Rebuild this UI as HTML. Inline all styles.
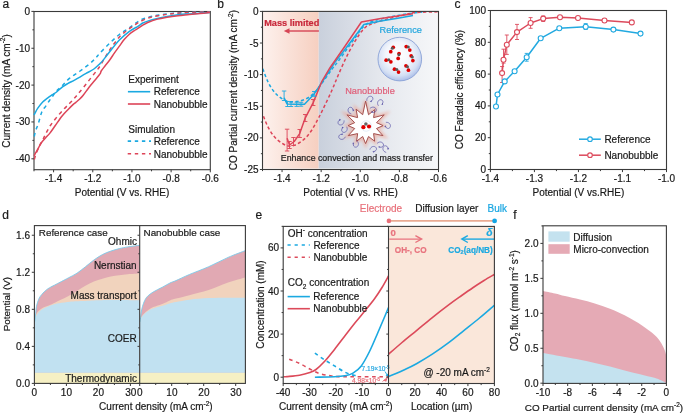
<!DOCTYPE html><html><head><meta charset="utf-8"><style>html,body{margin:0;padding:0;background:#fff;overflow:hidden;}svg{display:block;opacity:0.999;}text{font-family:"Liberation Sans",sans-serif;}</style></head><body>
<svg width="685" height="413" viewBox="0 0 685 413">
<defs><linearGradient id="gpink" x1="0" x2="1" y1="0" y2="0"><stop offset="0" stop-color="#fdf1ed"/><stop offset="1" stop-color="#f6cfc0"/></linearGradient><linearGradient id="ggray" x1="0" x2="1" y1="0" y2="0"><stop offset="0" stop-color="#c9d0dc"/><stop offset="0.5" stop-color="#e4e7ed"/><stop offset="1" stop-color="#f6f7f9"/></linearGradient><radialGradient id="gbub" cx="0.47" cy="0.40" r="0.64"><stop offset="0" stop-color="#ffffff"/><stop offset="0.45" stop-color="#f3f6fc"/><stop offset="0.75" stop-color="#d5e0f4"/><stop offset="0.92" stop-color="#b0c2ea"/><stop offset="1" stop-color="#93aadc"/></radialGradient><filter id="blur1" x="-0.3" y="-0.3" width="1.6" height="1.6"><feGaussianBlur stdDeviation="1.6"/></filter></defs>
<rect width="685" height="413" fill="#fff"/>
<text x="2.4" y="7.9" font-size="12" text-anchor="start" fill="#1a1a1a" font-weight="normal"  stroke="#1a1a1a" stroke-width="0.2">a</text>
<rect x="34" y="11.5" width="176.3" height="158.2" fill="none" stroke="#3a3a3a" stroke-width="1.1"/>
<line x1="53.59" y1="169.7" x2="53.59" y2="172.3" stroke="#3a3a3a" stroke-width="1" />
<line x1="92.77" y1="169.7" x2="92.77" y2="172.3" stroke="#3a3a3a" stroke-width="1" />
<line x1="131.94" y1="169.7" x2="131.94" y2="172.3" stroke="#3a3a3a" stroke-width="1" />
<line x1="171.12" y1="169.7" x2="171.12" y2="172.3" stroke="#3a3a3a" stroke-width="1" />
<line x1="210.3" y1="169.7" x2="210.3" y2="172.3" stroke="#3a3a3a" stroke-width="1" />
<line x1="34" y1="169.7" x2="34" y2="171.3" stroke="#3a3a3a" stroke-width="1" />
<line x1="73.18" y1="169.7" x2="73.18" y2="171.3" stroke="#3a3a3a" stroke-width="1" />
<line x1="112.36" y1="169.7" x2="112.36" y2="171.3" stroke="#3a3a3a" stroke-width="1" />
<line x1="151.53" y1="169.7" x2="151.53" y2="171.3" stroke="#3a3a3a" stroke-width="1" />
<line x1="190.71" y1="169.7" x2="190.71" y2="171.3" stroke="#3a3a3a" stroke-width="1" />
<text x="53.59" y="182" font-size="10" text-anchor="middle" fill="#1a1a1a" font-weight="normal"  stroke="#1a1a1a" stroke-width="0.2">-1.4</text>
<text x="92.77" y="182" font-size="10" text-anchor="middle" fill="#1a1a1a" font-weight="normal"  stroke="#1a1a1a" stroke-width="0.2">-1.2</text>
<text x="131.94" y="182" font-size="10" text-anchor="middle" fill="#1a1a1a" font-weight="normal"  stroke="#1a1a1a" stroke-width="0.2">-1.0</text>
<text x="171.12" y="182" font-size="10" text-anchor="middle" fill="#1a1a1a" font-weight="normal"  stroke="#1a1a1a" stroke-width="0.2">-0.8</text>
<text x="210.3" y="182" font-size="10" text-anchor="middle" fill="#1a1a1a" font-weight="normal"  stroke="#1a1a1a" stroke-width="0.2">-0.6</text>
<line x1="31.4" y1="11.4" x2="34" y2="11.4" stroke="#3a3a3a" stroke-width="1" />
<line x1="31.4" y1="48.25" x2="34" y2="48.25" stroke="#3a3a3a" stroke-width="1" />
<line x1="31.4" y1="85.1" x2="34" y2="85.1" stroke="#3a3a3a" stroke-width="1" />
<line x1="31.4" y1="121.95" x2="34" y2="121.95" stroke="#3a3a3a" stroke-width="1" />
<line x1="31.4" y1="158.8" x2="34" y2="158.8" stroke="#3a3a3a" stroke-width="1" />
<line x1="32.4" y1="29.83" x2="34" y2="29.83" stroke="#3a3a3a" stroke-width="1" />
<line x1="32.4" y1="66.67" x2="34" y2="66.67" stroke="#3a3a3a" stroke-width="1" />
<line x1="32.4" y1="103.53" x2="34" y2="103.53" stroke="#3a3a3a" stroke-width="1" />
<line x1="32.4" y1="140.38" x2="34" y2="140.38" stroke="#3a3a3a" stroke-width="1" />
<text x="30" y="14.9" font-size="10" text-anchor="end" fill="#1a1a1a" font-weight="normal"  stroke="#1a1a1a" stroke-width="0.2">0</text>
<text x="30" y="51.75" font-size="10" text-anchor="end" fill="#1a1a1a" font-weight="normal"  stroke="#1a1a1a" stroke-width="0.2">-10</text>
<text x="30" y="88.6" font-size="10" text-anchor="end" fill="#1a1a1a" font-weight="normal"  stroke="#1a1a1a" stroke-width="0.2">-20</text>
<text x="30" y="125.45" font-size="10" text-anchor="end" fill="#1a1a1a" font-weight="normal"  stroke="#1a1a1a" stroke-width="0.2">-30</text>
<text x="30" y="162.3" font-size="10" text-anchor="end" fill="#1a1a1a" font-weight="normal"  stroke="#1a1a1a" stroke-width="0.2">-40</text>
<text x="122" y="195.5" font-size="10" text-anchor="middle" fill="#1a1a1a" font-weight="normal"  stroke="#1a1a1a" stroke-width="0.2">Potential (V vs. RHE)</text>
<text transform="translate(9.5,91) rotate(-90)" font-size="10" text-anchor="middle" fill="#1a1a1a" stroke="#1a1a1a" stroke-width="0.2">Current density (mA cm<tspan font-size="6.5" dy="-4.1">-2</tspan><tspan dy="4.1">)</tspan></text>
<path d="M34.3,136.5 C34.5,135.58 34.83,133.13 35.5,131 C36.17,128.87 37.27,126.82 38.3,123.7 C39.33,120.58 40.48,115.2 41.7,112.3 C42.92,109.4 44.3,108.27 45.6,106.3 C46.9,104.33 48.37,102.13 49.5,100.5 C50.63,98.87 51.32,98 52.4,96.5 C53.48,95 54.42,93.25 56,91.5 C57.58,89.75 59.62,88.22 61.9,86 C64.18,83.78 66.78,80.62 69.7,78.2 C72.62,75.78 76.17,73.83 79.4,71.5 C82.63,69.17 86.37,66.47 89.1,64.2 C91.83,61.93 93.98,59.77 95.8,57.9 C97.62,56.03 97.68,55.45 100,53 C102.32,50.55 106.47,46.28 109.7,43.2 C112.93,40.12 116.17,37.03 119.4,34.5 C122.63,31.97 125.95,30.2 129.1,28 C132.25,25.8 135.68,22.93 138.3,21.3 C140.92,19.67 142.43,19.05 144.8,18.2 C147.17,17.35 150.08,16.73 152.5,16.2 C154.92,15.67 156.87,15.37 159.3,15 C161.73,14.63 164.52,14.32 167.1,14 C169.68,13.68 171.1,13.37 174.8,13.1 C178.5,12.83 183.43,12.6 189.3,12.4 C195.17,12.2 206.55,11.98 210,11.9" fill="none" stroke="#1ba9e1" stroke-width="1.5" stroke-dasharray="3.8,3.6" stroke-linejoin="round" />
<path d="M34.3,159.5 C34.67,158.33 35.55,154.95 36.5,152.5 C37.45,150.05 38.88,147.05 40,144.8 C41.12,142.55 42.1,141.1 43.2,139 C44.3,136.9 45.4,134.45 46.6,132.2 C47.8,129.95 48.8,127.88 50.4,125.5 C52,123.12 54.1,120.48 56.2,117.9 C58.3,115.32 60.93,112.25 63,110 C65.07,107.75 66.85,106.18 68.6,104.4 C70.35,102.62 71.9,101.08 73.5,99.3 C75.1,97.52 76.42,95.83 78.2,93.7 C79.98,91.57 82.07,89.15 84.2,86.5 C86.33,83.85 88.9,80.47 91,77.8 C93.1,75.13 95.3,72.47 96.8,70.5 C98.3,68.53 98.67,68.08 100,66 C101.33,63.92 103.18,60.67 104.8,58 C106.42,55.33 108.08,52.47 109.7,50 C111.32,47.53 112.88,45.37 114.5,43.2 C116.12,41.03 117.78,38.77 119.4,37 C121.02,35.23 122.58,33.97 124.2,32.6 C125.82,31.23 127.48,29.97 129.1,28.8 C130.72,27.63 132.35,26.63 133.9,25.6 C135.45,24.57 136.58,23.63 138.4,22.6 C140.22,21.57 142.45,20.35 144.8,19.4 C147.15,18.45 148.78,17.75 152.5,16.9 C156.22,16.05 162.52,14.95 167.1,14.3 C171.68,13.65 175.35,13.33 180,13 C184.65,12.67 190,12.47 195,12.3 C200,12.13 207.5,12.05 210,12" fill="none" stroke="#dd4458" stroke-width="1.5" stroke-dasharray="3.8,3.6" stroke-linejoin="round" />
<path d="M34,115 C34.08,114.85 33.87,115.23 34.5,114.1 C35.13,112.97 36.43,110.22 37.8,108.2 C39.17,106.18 41.08,103.68 42.7,102 C44.32,100.32 45.88,99.32 47.5,98.1 C49.12,96.88 50.78,95.8 52.4,94.7 C54.02,93.6 55.52,92.82 57.2,91.5 C58.88,90.18 60.75,88.12 62.5,86.8 C64.25,85.48 65.7,84.7 67.7,83.6 C69.7,82.5 72.55,81.25 74.5,80.2 C76.45,79.15 77.47,78.43 79.4,77.3 C81.33,76.17 83.68,74.78 86.1,73.4 C88.52,72.02 91.58,70.63 93.9,69 C96.22,67.37 98.48,65.03 100,63.6 C101.52,62.17 101.38,62.38 103,60.4 C104.62,58.42 106.97,55.1 109.7,51.7 C112.43,48.3 116.17,43.35 119.4,40 C122.63,36.65 125.95,33.92 129.1,31.6 C132.25,29.28 136.02,27.53 138.3,26.1 C140.58,24.67 141.23,23.83 142.8,23 C144.37,22.17 145.27,21.85 147.7,21.1 C150.13,20.35 154.17,19.27 157.4,18.5 C160.63,17.73 163.67,17.12 167.1,16.5 C170.53,15.88 174.3,15.23 178,14.8 C181.7,14.37 185.63,14.17 189.3,13.9 C192.97,13.63 196.55,13.42 200,13.2 C203.45,12.98 208.33,12.7 210,12.6" fill="none" stroke="#1ba9e1" stroke-width="1.5" stroke-linejoin="round" />
<path d="M34.2,156 C34.35,155.63 34.6,154.73 35.1,153.8 C35.6,152.87 36.42,151.82 37.2,150.4 C37.98,148.98 38.95,146.78 39.8,145.3 C40.65,143.82 41.32,142.77 42.3,141.5 C43.28,140.23 44.43,139.1 45.7,137.7 C46.97,136.3 48.3,135.13 49.9,133.1 C51.5,131.07 53.27,128.35 55.3,125.5 C57.33,122.65 60,118.63 62.1,116 C64.2,113.37 66.08,111.6 67.9,109.7 C69.72,107.8 71.67,105.83 73,104.6 C74.33,103.37 74.82,103.2 75.9,102.3 C76.98,101.4 78.28,100.38 79.5,99.2 C80.72,98.02 81.6,97.2 83.2,95.2 C84.8,93.2 87.15,89.7 89.1,87.2 C91.05,84.7 93.08,82.42 94.9,80.2 C96.72,77.98 98.95,75.43 100,73.9 C101.05,72.37 100.4,72.28 101.2,71 C102,69.72 103.38,68.03 104.8,66.2 C106.22,64.37 108.08,62.22 109.7,60 C111.32,57.78 112.88,55.22 114.5,52.9 C116.12,50.58 117.78,48.32 119.4,46.1 C121.02,43.88 122.58,41.53 124.2,39.6 C125.82,37.67 127.48,35.95 129.1,34.5 C130.72,33.05 132.37,31.95 133.9,30.9 C135.43,29.85 136.82,29.15 138.3,28.2 C139.78,27.25 141.23,26.15 142.8,25.2 C144.37,24.25 145.27,23.52 147.7,22.5 C150.13,21.48 154.17,19.98 157.4,19.1 C160.63,18.22 163.67,17.77 167.1,17.2 C170.53,16.63 174.3,16.13 178,15.7 C181.7,15.27 185.63,14.97 189.3,14.6 C192.97,14.23 196.55,13.83 200,13.5 C203.45,13.17 208.33,12.75 210,12.6" fill="none" stroke="#dd4458" stroke-width="1.5" stroke-linejoin="round" />
<text x="128.3" y="83" font-size="10" text-anchor="start" fill="#1a1a1a" font-weight="normal"  stroke="#1a1a1a" stroke-width="0.2">Experiment</text>
<line x1="127.9" y1="91.7" x2="150.2" y2="91.7" stroke="#1ba9e1" stroke-width="1.6" />
<text x="153.7" y="95.3" font-size="10" text-anchor="start" fill="#1a1a1a" font-weight="normal"  stroke="#1a1a1a" stroke-width="0.2">Reference</text>
<line x1="127.9" y1="104" x2="150.2" y2="104" stroke="#dd4458" stroke-width="1.6" />
<text x="153.7" y="107.9" font-size="10" text-anchor="start" fill="#1a1a1a" font-weight="normal"  stroke="#1a1a1a" stroke-width="0.2">Nanobubble</text>
<text x="128.3" y="132.7" font-size="10" text-anchor="start" fill="#1a1a1a" font-weight="normal"  stroke="#1a1a1a" stroke-width="0.2">Simulation</text>
<line x1="127.7" y1="141.1" x2="151" y2="141.1" stroke="#1ba9e1" stroke-width="1.6" stroke-dasharray="3.4,3.7"/>
<text x="153.7" y="145.2" font-size="10" text-anchor="start" fill="#1a1a1a" font-weight="normal"  stroke="#1a1a1a" stroke-width="0.2">Reference</text>
<line x1="127.7" y1="153.8" x2="151" y2="153.8" stroke="#dd4458" stroke-width="1.6" stroke-dasharray="3.4,3.7"/>
<text x="153.7" y="157.9" font-size="10" text-anchor="start" fill="#1a1a1a" font-weight="normal"  stroke="#1a1a1a" stroke-width="0.2">Nanobubble</text>
<rect x="263" y="11.9" width="55.7" height="156.6" fill="url(#gpink)"/>
<rect x="318.7" y="11.9" width="118.8" height="156.6" fill="url(#ggray)"/>
<text x="217.2" y="8.3" font-size="12" text-anchor="start" fill="#1a1a1a" font-weight="normal"  stroke="#1a1a1a" stroke-width="0.2">b</text>
<path d="M262.8,68.7 C263.62,70.8 265.92,77.58 267.7,81.3 C269.48,85.02 271.57,88.42 273.5,91 C275.43,93.58 277.05,95.1 279.3,96.8 C281.55,98.5 284.1,100.4 287,101.2 C289.9,102 293.47,102.02 296.7,101.6 C299.93,101.18 303.48,100.15 306.4,98.7 C309.32,97.25 311.6,95.48 314.2,92.9 C316.8,90.32 319.1,87.07 322,83.2 C324.9,79.33 328.93,73.32 331.6,69.7 C334.27,66.08 335.43,64.93 338,61.5 C340.57,58.07 344,53.27 347,49.1 C350,44.93 353.17,40.32 356,36.5 C358.83,32.68 361.33,28.7 364,26.2 C366.67,23.7 369.2,22.7 372,21.5 C374.8,20.3 376.5,20 380.8,19 C385.1,18 392.43,16.48 397.8,15.5 C403.17,14.52 408.9,13.67 413,13.1 C417.1,12.53 420.83,12.27 422.4,12.1" fill="none" stroke="#1ba9e1" stroke-width="1.5" stroke-dasharray="3.2,2.4" stroke-linejoin="round" />
<path d="M263.5,116.3 C264.15,117.87 265.7,122.42 267.4,125.7 C269.1,128.98 271.33,133.12 273.7,136 C276.07,138.88 278.97,141.3 281.6,143 C284.23,144.7 286.87,146.05 289.5,146.2 C292.13,146.35 294.78,145.22 297.4,143.9 C300.02,142.58 302.85,140.53 305.2,138.3 C307.55,136.07 309.4,133.65 311.5,130.5 C313.6,127.35 315.95,122.82 317.8,119.4 C319.65,115.98 320.3,114.73 322.6,110 C324.9,105.27 328.95,96.92 331.6,91 C334.25,85.08 335.93,80.37 338.5,74.5 C341.07,68.63 344.18,61.45 347,55.8 C349.82,50.15 352.58,45.12 355.4,40.6 C358.22,36.08 361.07,31.53 363.9,28.7 C366.73,25.87 368.17,25.28 372.4,23.6 C376.63,21.92 383.65,20.15 389.3,18.6 C394.95,17.05 402.07,15.3 406.3,14.3 C410.53,13.3 409.42,13.02 414.7,12.6 C419.98,12.18 434.12,11.93 438,11.8" fill="none" stroke="#dd4458" stroke-width="1.5" stroke-dasharray="3.2,2.4" stroke-linejoin="round" />
<path d="M284.1,97.8 L287,104 L296.7,104.3 L304.5,104.3 L314.2,93.9 L323.9,79.4 L334.5,62.9 L345.3,49 L363.9,24.5 L380.8,21.1 L397.8,18.2 L413,15.5" fill="none" stroke="#1ba9e1" stroke-width="1.5" stroke-linejoin="round" />
<path d="M287.1,138.3 L289.5,145 L294.2,141.5 L299.7,133.6 L305.2,118.1 L313.2,102.6 L321.9,81.3 L330,67.7 L345.3,45.7 L361.4,22 L380.8,18.6 L397.8,16 L413,13.8" fill="none" stroke="#dd4458" stroke-width="1.5" stroke-linejoin="round" />
<line x1="284.1" y1="91" x2="284.1" y2="100.5" stroke="#1ba9e1" stroke-width="0.9" />
<line x1="281.9" y1="91" x2="286.3" y2="91" stroke="#1ba9e1" stroke-width="0.9" />
<line x1="281.9" y1="100.5" x2="286.3" y2="100.5" stroke="#1ba9e1" stroke-width="0.9" />
<line x1="287.5" y1="101.5" x2="287.5" y2="106.5" stroke="#1ba9e1" stroke-width="0.9" />
<line x1="285.3" y1="101.5" x2="289.7" y2="101.5" stroke="#1ba9e1" stroke-width="0.9" />
<line x1="285.3" y1="106.5" x2="289.7" y2="106.5" stroke="#1ba9e1" stroke-width="0.9" />
<line x1="291" y1="102" x2="291" y2="106.5" stroke="#1ba9e1" stroke-width="0.9" />
<line x1="288.8" y1="102" x2="293.2" y2="102" stroke="#1ba9e1" stroke-width="0.9" />
<line x1="288.8" y1="106.5" x2="293.2" y2="106.5" stroke="#1ba9e1" stroke-width="0.9" />
<line x1="296.7" y1="102.2" x2="296.7" y2="106.4" stroke="#1ba9e1" stroke-width="0.9" />
<line x1="294.5" y1="102.2" x2="298.9" y2="102.2" stroke="#1ba9e1" stroke-width="0.9" />
<line x1="294.5" y1="106.4" x2="298.9" y2="106.4" stroke="#1ba9e1" stroke-width="0.9" />
<line x1="301" y1="102.3" x2="301" y2="106.2" stroke="#1ba9e1" stroke-width="0.9" />
<line x1="298.8" y1="102.3" x2="303.2" y2="102.3" stroke="#1ba9e1" stroke-width="0.9" />
<line x1="298.8" y1="106.2" x2="303.2" y2="106.2" stroke="#1ba9e1" stroke-width="0.9" />
<line x1="314.2" y1="91.5" x2="314.2" y2="96.3" stroke="#1ba9e1" stroke-width="0.9" />
<line x1="312" y1="91.5" x2="316.4" y2="91.5" stroke="#1ba9e1" stroke-width="0.9" />
<line x1="312" y1="96.3" x2="316.4" y2="96.3" stroke="#1ba9e1" stroke-width="0.9" />
<line x1="287.1" y1="129.2" x2="287.1" y2="151" stroke="#dd4458" stroke-width="0.9" />
<line x1="284.9" y1="129.2" x2="289.3" y2="129.2" stroke="#dd4458" stroke-width="0.9" />
<line x1="284.9" y1="151" x2="289.3" y2="151" stroke="#dd4458" stroke-width="0.9" />
<line x1="289.5" y1="141.5" x2="289.5" y2="148.5" stroke="#dd4458" stroke-width="0.9" />
<line x1="287.3" y1="141.5" x2="291.7" y2="141.5" stroke="#dd4458" stroke-width="0.9" />
<line x1="287.3" y1="148.5" x2="291.7" y2="148.5" stroke="#dd4458" stroke-width="0.9" />
<line x1="293.5" y1="137.5" x2="293.5" y2="145.5" stroke="#dd4458" stroke-width="0.9" />
<line x1="291.3" y1="137.5" x2="295.7" y2="137.5" stroke="#dd4458" stroke-width="0.9" />
<line x1="291.3" y1="145.5" x2="295.7" y2="145.5" stroke="#dd4458" stroke-width="0.9" />
<line x1="299.7" y1="129.5" x2="299.7" y2="137.5" stroke="#dd4458" stroke-width="0.9" />
<line x1="297.5" y1="129.5" x2="301.9" y2="129.5" stroke="#dd4458" stroke-width="0.9" />
<line x1="297.5" y1="137.5" x2="301.9" y2="137.5" stroke="#dd4458" stroke-width="0.9" />
<line x1="305.2" y1="114.5" x2="305.2" y2="121.5" stroke="#dd4458" stroke-width="0.9" />
<line x1="303" y1="114.5" x2="307.4" y2="114.5" stroke="#dd4458" stroke-width="0.9" />
<line x1="303" y1="121.5" x2="307.4" y2="121.5" stroke="#dd4458" stroke-width="0.9" />
<line x1="313.2" y1="99.5" x2="313.2" y2="105.5" stroke="#dd4458" stroke-width="0.9" />
<line x1="311" y1="99.5" x2="315.4" y2="99.5" stroke="#dd4458" stroke-width="0.9" />
<line x1="311" y1="105.5" x2="315.4" y2="105.5" stroke="#dd4458" stroke-width="0.9" />
<rect x="262.5" y="11.4" width="176" height="158.1" fill="none" stroke="#3a3a3a" stroke-width="1.1"/>
<line x1="282.06" y1="169.5" x2="282.06" y2="172.1" stroke="#3a3a3a" stroke-width="1" />
<line x1="321.17" y1="169.5" x2="321.17" y2="172.1" stroke="#3a3a3a" stroke-width="1" />
<line x1="360.28" y1="169.5" x2="360.28" y2="172.1" stroke="#3a3a3a" stroke-width="1" />
<line x1="399.39" y1="169.5" x2="399.39" y2="172.1" stroke="#3a3a3a" stroke-width="1" />
<line x1="438.5" y1="169.5" x2="438.5" y2="172.1" stroke="#3a3a3a" stroke-width="1" />
<line x1="262.5" y1="169.5" x2="262.5" y2="171.1" stroke="#3a3a3a" stroke-width="1" />
<line x1="301.61" y1="169.5" x2="301.61" y2="171.1" stroke="#3a3a3a" stroke-width="1" />
<line x1="340.72" y1="169.5" x2="340.72" y2="171.1" stroke="#3a3a3a" stroke-width="1" />
<line x1="379.83" y1="169.5" x2="379.83" y2="171.1" stroke="#3a3a3a" stroke-width="1" />
<line x1="418.94" y1="169.5" x2="418.94" y2="171.1" stroke="#3a3a3a" stroke-width="1" />
<text x="282.06" y="182" font-size="10" text-anchor="middle" fill="#1a1a1a" font-weight="normal"  stroke="#1a1a1a" stroke-width="0.2">-1.4</text>
<text x="321.17" y="182" font-size="10" text-anchor="middle" fill="#1a1a1a" font-weight="normal"  stroke="#1a1a1a" stroke-width="0.2">-1.2</text>
<text x="360.28" y="182" font-size="10" text-anchor="middle" fill="#1a1a1a" font-weight="normal"  stroke="#1a1a1a" stroke-width="0.2">-1.0</text>
<text x="399.39" y="182" font-size="10" text-anchor="middle" fill="#1a1a1a" font-weight="normal"  stroke="#1a1a1a" stroke-width="0.2">-0.8</text>
<text x="438.5" y="182" font-size="10" text-anchor="middle" fill="#1a1a1a" font-weight="normal"  stroke="#1a1a1a" stroke-width="0.2">-0.6</text>
<line x1="259.9" y1="11.4" x2="262.5" y2="11.4" stroke="#3a3a3a" stroke-width="1" />
<line x1="259.9" y1="43.02" x2="262.5" y2="43.02" stroke="#3a3a3a" stroke-width="1" />
<line x1="259.9" y1="74.64" x2="262.5" y2="74.64" stroke="#3a3a3a" stroke-width="1" />
<line x1="259.9" y1="106.26" x2="262.5" y2="106.26" stroke="#3a3a3a" stroke-width="1" />
<line x1="259.9" y1="137.88" x2="262.5" y2="137.88" stroke="#3a3a3a" stroke-width="1" />
<line x1="259.9" y1="169.5" x2="262.5" y2="169.5" stroke="#3a3a3a" stroke-width="1" />
<line x1="260.9" y1="27.21" x2="262.5" y2="27.21" stroke="#3a3a3a" stroke-width="1" />
<line x1="260.9" y1="58.83" x2="262.5" y2="58.83" stroke="#3a3a3a" stroke-width="1" />
<line x1="260.9" y1="90.45" x2="262.5" y2="90.45" stroke="#3a3a3a" stroke-width="1" />
<line x1="260.9" y1="122.07" x2="262.5" y2="122.07" stroke="#3a3a3a" stroke-width="1" />
<line x1="260.9" y1="153.69" x2="262.5" y2="153.69" stroke="#3a3a3a" stroke-width="1" />
<text x="258.5" y="14.9" font-size="10" text-anchor="end" fill="#1a1a1a" font-weight="normal"  stroke="#1a1a1a" stroke-width="0.2">0</text>
<text x="258.5" y="46.52" font-size="10" text-anchor="end" fill="#1a1a1a" font-weight="normal"  stroke="#1a1a1a" stroke-width="0.2">-5</text>
<text x="258.5" y="78.14" font-size="10" text-anchor="end" fill="#1a1a1a" font-weight="normal"  stroke="#1a1a1a" stroke-width="0.2">-10</text>
<text x="258.5" y="109.76" font-size="10" text-anchor="end" fill="#1a1a1a" font-weight="normal"  stroke="#1a1a1a" stroke-width="0.2">-15</text>
<text x="258.5" y="141.38" font-size="10" text-anchor="end" fill="#1a1a1a" font-weight="normal"  stroke="#1a1a1a" stroke-width="0.2">-20</text>
<text x="258.5" y="173" font-size="10" text-anchor="end" fill="#1a1a1a" font-weight="normal"  stroke="#1a1a1a" stroke-width="0.2">-25</text>
<text x="350.5" y="195.5" font-size="10" text-anchor="middle" fill="#1a1a1a" font-weight="normal"  stroke="#1a1a1a" stroke-width="0.2">Potential (V vs. RHE)</text>
<text transform="translate(237.4,90.1) rotate(-90)" font-size="10" text-anchor="middle" fill="#1a1a1a" stroke="#1a1a1a" stroke-width="0.2">CO Partial current density (mA cm<tspan font-size="6.5" dy="-4.1">-2</tspan><tspan dy="4.1">)</tspan></text>
<text x="264.2" y="26.3" font-size="9.2" text-anchor="start" fill="#c8283a" font-weight="bold"  stroke="#c8283a" stroke-width="0.2">Mass limited</text>
<line x1="287.5" y1="31" x2="318.9" y2="31" stroke="#d64555" stroke-width="1.4" />
<path d="M283.8,31 L289.5,28.2 L289.5,33.8 Z" fill="#d64555"/>
<text x="379.5" y="33" font-size="9.2" text-anchor="start" fill="#22a6de" font-weight="normal"  stroke="#22a6de" stroke-width="0.2">Reference</text>
<text x="345.2" y="93.5" font-size="9.2" text-anchor="start" fill="#e0607a" font-weight="normal"  stroke="#e0607a" stroke-width="0.2">Nanobubble</text>
<text x="280.8" y="161.2" font-size="8.8" text-anchor="start" fill="#1a1a1a" font-weight="normal"  stroke="#1a1a1a" stroke-width="0.2">Enhance convection and mass transfer</text>
<circle cx="399.8" cy="59.1" r="21.8" fill="url(#gbub)" stroke="#8aa2d6" stroke-width="0.9"/>
<circle cx="393.25" cy="47.33" r="1.85" fill="#e00000"/>
<circle cx="390.75" cy="51.67" r="1.85" fill="#e00000"/>
<circle cx="392.3" cy="48.3" r="1.5" fill="#5a5a5a"/>
<circle cx="406.23" cy="46.53" r="1.85" fill="#e00000"/>
<circle cx="409.77" cy="50.07" r="1.85" fill="#e00000"/>
<circle cx="408.3" cy="47.1" r="1.5" fill="#5a5a5a"/>
<circle cx="399.03" cy="53.54" r="1.85" fill="#e00000"/>
<circle cx="398.17" cy="58.46" r="1.85" fill="#e00000"/>
<circle cx="398.9" cy="54.8" r="1.5" fill="#5a5a5a"/>
<circle cx="411.14" cy="55.85" r="1.85" fill="#e00000"/>
<circle cx="412.86" cy="60.55" r="1.85" fill="#e00000"/>
<circle cx="412.3" cy="57" r="1.5" fill="#5a5a5a"/>
<circle cx="386.15" cy="60.14" r="1.85" fill="#e00000"/>
<circle cx="390.85" cy="61.86" r="1.85" fill="#e00000"/>
<circle cx="388.8" cy="59.8" r="1.5" fill="#5a5a5a"/>
<circle cx="405.95" cy="65.83" r="1.85" fill="#e00000"/>
<circle cx="408.45" cy="70.17" r="1.85" fill="#e00000"/>
<circle cx="407.5" cy="66.8" r="1.5" fill="#5a5a5a"/>
<circle cx="394.45" cy="69.17" r="1.85" fill="#e00000"/>
<circle cx="398.55" cy="72.03" r="1.85" fill="#e00000"/>
<circle cx="396.8" cy="69.4" r="1.5" fill="#5a5a5a"/>
<path d="M365.6,101.1 L368.52,114.69 L374.85,109.58 L373.59,117.61 L384.22,114.85 L376.51,122.68 L383.1,125.6 L376.51,128.52 L382.92,135.6 L373.59,133.59 L374.6,141.19 L368.52,136.51 L365.6,143.6 L362.68,136.51 L356.6,141.19 L357.61,133.59 L348.28,135.6 L354.69,128.52 L348.1,125.6 L354.69,122.68 L346.98,114.85 L357.61,117.61 L356.1,109.15 L362.68,114.69 Z" fill="none" stroke="#eea08e" stroke-width="4.0" opacity="0.6" filter="url(#blur1)"/>
<path d="M365.6,101.1 L368.52,114.69 L374.85,109.58 L373.59,117.61 L384.22,114.85 L376.51,122.68 L383.1,125.6 L376.51,128.52 L382.92,135.6 L373.59,133.59 L374.6,141.19 L368.52,136.51 L365.6,143.6 L362.68,136.51 L356.6,141.19 L357.61,133.59 L348.28,135.6 L354.69,128.52 L348.1,125.6 L354.69,122.68 L346.98,114.85 L357.61,117.61 L356.1,109.15 L362.68,114.69 Z" fill="#fff" stroke="#a4504e" stroke-width="1.0" stroke-linejoin="miter"/>
<circle cx="366.2" cy="126.0" r="5.2" fill="none" stroke="#cfe0f2" stroke-width="0.6"/>
<circle cx="363.4" cy="127.2" r="2.1" fill="#e00000"/><circle cx="369" cy="126.5" r="2.1" fill="#e00000"/><circle cx="365.9" cy="124.0" r="1.8" fill="#666"/>
<g transform="translate(370,98.6) rotate(10) scale(1.05)"><path d="M-2.6,2.6 C-3.6,-0.8 -0.6,-3.2 1.8,-2.0 C3.4,-1.0 3.0,1.6 1.2,2.3" fill="none" stroke="#5d56a8" stroke-width="0.6"/><path d="M0.2,2.6 l2.0,-1.2 l-0.3,1.9 z" fill="#5d56a8"/></g>
<g transform="translate(380.1,102.3) rotate(-20) scale(1.05)"><path d="M-2.6,2.6 C-3.6,-0.8 -0.6,-3.2 1.8,-2.0 C3.4,-1.0 3.0,1.6 1.2,2.3" fill="none" stroke="#5d56a8" stroke-width="0.6"/><path d="M0.2,2.6 l2.0,-1.2 l-0.3,1.9 z" fill="#5d56a8"/></g>
<g transform="translate(373.6,109.5) rotate(60) scale(1.05)"><path d="M-2.6,2.6 C-3.6,-0.8 -0.6,-3.2 1.8,-2.0 C3.4,-1.0 3.0,1.6 1.2,2.3" fill="none" stroke="#5d56a8" stroke-width="0.6"/><path d="M0.2,2.6 l2.0,-1.2 l-0.3,1.9 z" fill="#5d56a8"/></g>
<g transform="translate(350.3,110.2) rotate(-60) scale(1.05)"><path d="M-2.6,2.6 C-3.6,-0.8 -0.6,-3.2 1.8,-2.0 C3.4,-1.0 3.0,1.6 1.2,2.3" fill="none" stroke="#5d56a8" stroke-width="0.6"/><path d="M0.2,2.6 l2.0,-1.2 l-0.3,1.9 z" fill="#5d56a8"/></g>
<g transform="translate(340.9,122.6) rotate(190) scale(1.05)"><path d="M-2.6,2.6 C-3.6,-0.8 -0.6,-3.2 1.8,-2.0 C3.4,-1.0 3.0,1.6 1.2,2.3" fill="none" stroke="#5d56a8" stroke-width="0.6"/><path d="M0.2,2.6 l2.0,-1.2 l-0.3,1.9 z" fill="#5d56a8"/></g>
<g transform="translate(344.5,129.9) rotate(170) scale(1.05)"><path d="M-2.6,2.6 C-3.6,-0.8 -0.6,-3.2 1.8,-2.0 C3.4,-1.0 3.0,1.6 1.2,2.3" fill="none" stroke="#5d56a8" stroke-width="0.6"/><path d="M0.2,2.6 l2.0,-1.2 l-0.3,1.9 z" fill="#5d56a8"/></g>
<g transform="translate(341.6,137.1) rotate(220) scale(1.05)"><path d="M-2.6,2.6 C-3.6,-0.8 -0.6,-3.2 1.8,-2.0 C3.4,-1.0 3.0,1.6 1.2,2.3" fill="none" stroke="#5d56a8" stroke-width="0.6"/><path d="M0.2,2.6 l2.0,-1.2 l-0.3,1.9 z" fill="#5d56a8"/></g>
<g transform="translate(388.1,125.5) rotate(100) scale(1.05)"><path d="M-2.6,2.6 C-3.6,-0.8 -0.6,-3.2 1.8,-2.0 C3.4,-1.0 3.0,1.6 1.2,2.3" fill="none" stroke="#5d56a8" stroke-width="0.6"/><path d="M0.2,2.6 l2.0,-1.2 l-0.3,1.9 z" fill="#5d56a8"/></g>
<g transform="translate(356.1,144.4) rotate(140) scale(1.05)"><path d="M-2.6,2.6 C-3.6,-0.8 -0.6,-3.2 1.8,-2.0 C3.4,-1.0 3.0,1.6 1.2,2.3" fill="none" stroke="#5d56a8" stroke-width="0.6"/><path d="M0.2,2.6 l2.0,-1.2 l-0.3,1.9 z" fill="#5d56a8"/></g>
<g transform="translate(373.6,148.7) rotate(30) scale(1.05)"><path d="M-2.6,2.6 C-3.6,-0.8 -0.6,-3.2 1.8,-2.0 C3.4,-1.0 3.0,1.6 1.2,2.3" fill="none" stroke="#5d56a8" stroke-width="0.6"/><path d="M0.2,2.6 l2.0,-1.2 l-0.3,1.9 z" fill="#5d56a8"/></g>
<g transform="translate(380.8,144.4) rotate(60) scale(1.05)"><path d="M-2.6,2.6 C-3.6,-0.8 -0.6,-3.2 1.8,-2.0 C3.4,-1.0 3.0,1.6 1.2,2.3" fill="none" stroke="#5d56a8" stroke-width="0.6"/><path d="M0.2,2.6 l2.0,-1.2 l-0.3,1.9 z" fill="#5d56a8"/></g>
<g transform="translate(385.2,148.7) rotate(300) scale(1.05)"><path d="M-2.6,2.6 C-3.6,-0.8 -0.6,-3.2 1.8,-2.0 C3.4,-1.0 3.0,1.6 1.2,2.3" fill="none" stroke="#5d56a8" stroke-width="0.6"/><path d="M0.2,2.6 l2.0,-1.2 l-0.3,1.9 z" fill="#5d56a8"/></g>
<text x="454.6" y="7.9" font-size="12" text-anchor="start" fill="#1a1a1a" font-weight="normal"  stroke="#1a1a1a" stroke-width="0.2">c</text>
<line x1="502.1" y1="66.5" x2="502.1" y2="82.5" stroke="#dc4a5c" stroke-width="0.9" />
<line x1="500.1" y1="66.5" x2="504.1" y2="66.5" stroke="#dc4a5c" stroke-width="0.9" />
<line x1="500.1" y1="82.5" x2="504.1" y2="82.5" stroke="#dc4a5c" stroke-width="0.9" />
<line x1="503.5" y1="49.2" x2="503.5" y2="63.1" stroke="#dc4a5c" stroke-width="0.9" />
<line x1="501.5" y1="49.2" x2="505.5" y2="49.2" stroke="#dc4a5c" stroke-width="0.9" />
<line x1="501.5" y1="63.1" x2="505.5" y2="63.1" stroke="#dc4a5c" stroke-width="0.9" />
<line x1="506.8" y1="35" x2="506.8" y2="54.4" stroke="#dc4a5c" stroke-width="0.9" />
<line x1="504.8" y1="35" x2="508.8" y2="35" stroke="#dc4a5c" stroke-width="0.9" />
<line x1="504.8" y1="54.4" x2="508.8" y2="54.4" stroke="#dc4a5c" stroke-width="0.9" />
<line x1="517" y1="24.4" x2="517" y2="39.5" stroke="#dc4a5c" stroke-width="0.9" />
<line x1="515" y1="24.4" x2="519" y2="24.4" stroke="#dc4a5c" stroke-width="0.9" />
<line x1="515" y1="39.5" x2="519" y2="39.5" stroke="#dc4a5c" stroke-width="0.9" />
<line x1="530.6" y1="17.6" x2="530.6" y2="28.3" stroke="#dc4a5c" stroke-width="0.9" />
<line x1="528.6" y1="17.6" x2="532.6" y2="17.6" stroke="#dc4a5c" stroke-width="0.9" />
<line x1="528.6" y1="28.3" x2="532.6" y2="28.3" stroke="#dc4a5c" stroke-width="0.9" />
<line x1="543.2" y1="16" x2="543.2" y2="21.5" stroke="#dc4a5c" stroke-width="0.9" />
<line x1="541.2" y1="16" x2="545.2" y2="16" stroke="#dc4a5c" stroke-width="0.9" />
<line x1="541.2" y1="21.5" x2="545.2" y2="21.5" stroke="#dc4a5c" stroke-width="0.9" />
<line x1="631.8" y1="21.2" x2="631.8" y2="23.6" stroke="#dc4a5c" stroke-width="0.9" />
<line x1="629.8" y1="21.2" x2="633.8" y2="21.2" stroke="#dc4a5c" stroke-width="0.9" />
<line x1="629.8" y1="23.6" x2="633.8" y2="23.6" stroke="#dc4a5c" stroke-width="0.9" />
<line x1="526.7" y1="53.4" x2="526.7" y2="61.2" stroke="#22a9e0" stroke-width="0.9" />
<line x1="524.7" y1="53.4" x2="528.7" y2="53.4" stroke="#22a9e0" stroke-width="0.9" />
<line x1="524.7" y1="61.2" x2="528.7" y2="61.2" stroke="#22a9e0" stroke-width="0.9" />
<line x1="540.7" y1="37.4" x2="540.7" y2="39.2" stroke="#22a9e0" stroke-width="0.9" />
<line x1="538.7" y1="37.4" x2="542.7" y2="37.4" stroke="#22a9e0" stroke-width="0.9" />
<line x1="538.7" y1="39.2" x2="542.7" y2="39.2" stroke="#22a9e0" stroke-width="0.9" />
<line x1="585.7" y1="23.6" x2="585.7" y2="29.5" stroke="#22a9e0" stroke-width="0.9" />
<line x1="583.7" y1="23.6" x2="587.7" y2="23.6" stroke="#22a9e0" stroke-width="0.9" />
<line x1="583.7" y1="29.5" x2="587.7" y2="29.5" stroke="#22a9e0" stroke-width="0.9" />
<path d="M502.1,73.1 L503.5,59.8 L506.8,44.7 L517,32.1 L530.6,23 L543.2,18.6 L560,17.2 L578,18 L604.5,20.5 L631.8,22.4" fill="none" stroke="#dc4a5c" stroke-width="1.5" stroke-linejoin="round" />
<path d="M496,106.5 L497.5,94.5 L504.7,81.4 L514.6,71.3 L526.7,57.3 L540.7,38.3 L559.3,28.2 L585.7,26.7 L613.4,29.6 L640.5,33.6" fill="none" stroke="#22a9e0" stroke-width="1.5" stroke-linejoin="round" />
<circle cx="502.1" cy="73.1" r="2.5" fill="#fff" stroke="#dc4a5c" stroke-width="1.1"/>
<circle cx="503.5" cy="59.8" r="2.5" fill="#fff" stroke="#dc4a5c" stroke-width="1.1"/>
<circle cx="506.8" cy="44.7" r="2.5" fill="#fff" stroke="#dc4a5c" stroke-width="1.1"/>
<circle cx="517" cy="32.1" r="2.5" fill="#fff" stroke="#dc4a5c" stroke-width="1.1"/>
<circle cx="530.6" cy="23" r="2.5" fill="#fff" stroke="#dc4a5c" stroke-width="1.1"/>
<circle cx="543.2" cy="18.6" r="2.5" fill="#fff" stroke="#dc4a5c" stroke-width="1.1"/>
<circle cx="560" cy="17.2" r="2.5" fill="#fff" stroke="#dc4a5c" stroke-width="1.1"/>
<circle cx="578" cy="18" r="2.5" fill="#fff" stroke="#dc4a5c" stroke-width="1.1"/>
<circle cx="604.5" cy="20.5" r="2.5" fill="#fff" stroke="#dc4a5c" stroke-width="1.1"/>
<circle cx="631.8" cy="22.4" r="2.5" fill="#fff" stroke="#dc4a5c" stroke-width="1.1"/>
<circle cx="496" cy="106.5" r="2.5" fill="#fff" stroke="#22a9e0" stroke-width="1.1"/>
<circle cx="497.5" cy="94.5" r="2.5" fill="#fff" stroke="#22a9e0" stroke-width="1.1"/>
<circle cx="504.7" cy="81.4" r="2.5" fill="#fff" stroke="#22a9e0" stroke-width="1.1"/>
<circle cx="514.6" cy="71.3" r="2.5" fill="#fff" stroke="#22a9e0" stroke-width="1.1"/>
<circle cx="526.7" cy="57.3" r="2.5" fill="#fff" stroke="#22a9e0" stroke-width="1.1"/>
<circle cx="540.7" cy="38.3" r="2.5" fill="#fff" stroke="#22a9e0" stroke-width="1.1"/>
<circle cx="559.3" cy="28.2" r="2.5" fill="#fff" stroke="#22a9e0" stroke-width="1.1"/>
<circle cx="585.7" cy="26.7" r="2.5" fill="#fff" stroke="#22a9e0" stroke-width="1.1"/>
<circle cx="613.4" cy="29.6" r="2.5" fill="#fff" stroke="#22a9e0" stroke-width="1.1"/>
<circle cx="640.5" cy="33.6" r="2.5" fill="#fff" stroke="#22a9e0" stroke-width="1.1"/>
<rect x="490.4" y="10.5" width="176.1" height="159" fill="none" stroke="#3a3a3a" stroke-width="1.1"/>
<line x1="490.4" y1="169.5" x2="490.4" y2="172.1" stroke="#3a3a3a" stroke-width="1" />
<line x1="534.42" y1="169.5" x2="534.42" y2="172.1" stroke="#3a3a3a" stroke-width="1" />
<line x1="578.45" y1="169.5" x2="578.45" y2="172.1" stroke="#3a3a3a" stroke-width="1" />
<line x1="622.47" y1="169.5" x2="622.47" y2="172.1" stroke="#3a3a3a" stroke-width="1" />
<line x1="666.5" y1="169.5" x2="666.5" y2="172.1" stroke="#3a3a3a" stroke-width="1" />
<line x1="512.41" y1="169.5" x2="512.41" y2="171.1" stroke="#3a3a3a" stroke-width="1" />
<line x1="556.44" y1="169.5" x2="556.44" y2="171.1" stroke="#3a3a3a" stroke-width="1" />
<line x1="600.46" y1="169.5" x2="600.46" y2="171.1" stroke="#3a3a3a" stroke-width="1" />
<line x1="644.49" y1="169.5" x2="644.49" y2="171.1" stroke="#3a3a3a" stroke-width="1" />
<text x="490.4" y="182" font-size="10" text-anchor="middle" fill="#1a1a1a" font-weight="normal"  stroke="#1a1a1a" stroke-width="0.2">-1.4</text>
<text x="534.42" y="182" font-size="10" text-anchor="middle" fill="#1a1a1a" font-weight="normal"  stroke="#1a1a1a" stroke-width="0.2">-1.3</text>
<text x="578.45" y="182" font-size="10" text-anchor="middle" fill="#1a1a1a" font-weight="normal"  stroke="#1a1a1a" stroke-width="0.2">-1.2</text>
<text x="622.47" y="182" font-size="10" text-anchor="middle" fill="#1a1a1a" font-weight="normal"  stroke="#1a1a1a" stroke-width="0.2">-1.1</text>
<text x="666.5" y="182" font-size="10" text-anchor="middle" fill="#1a1a1a" font-weight="normal"  stroke="#1a1a1a" stroke-width="0.2">-1.0</text>
<line x1="487.8" y1="169.5" x2="490.4" y2="169.5" stroke="#3a3a3a" stroke-width="1" />
<line x1="487.8" y1="137.7" x2="490.4" y2="137.7" stroke="#3a3a3a" stroke-width="1" />
<line x1="487.8" y1="105.9" x2="490.4" y2="105.9" stroke="#3a3a3a" stroke-width="1" />
<line x1="487.8" y1="74.1" x2="490.4" y2="74.1" stroke="#3a3a3a" stroke-width="1" />
<line x1="487.8" y1="42.3" x2="490.4" y2="42.3" stroke="#3a3a3a" stroke-width="1" />
<line x1="487.8" y1="10.5" x2="490.4" y2="10.5" stroke="#3a3a3a" stroke-width="1" />
<line x1="488.8" y1="153.6" x2="490.4" y2="153.6" stroke="#3a3a3a" stroke-width="1" />
<line x1="488.8" y1="121.8" x2="490.4" y2="121.8" stroke="#3a3a3a" stroke-width="1" />
<line x1="488.8" y1="90" x2="490.4" y2="90" stroke="#3a3a3a" stroke-width="1" />
<line x1="488.8" y1="58.2" x2="490.4" y2="58.2" stroke="#3a3a3a" stroke-width="1" />
<line x1="488.8" y1="26.4" x2="490.4" y2="26.4" stroke="#3a3a3a" stroke-width="1" />
<text x="486" y="173" font-size="10" text-anchor="end" fill="#1a1a1a" font-weight="normal"  stroke="#1a1a1a" stroke-width="0.2">0</text>
<text x="486" y="141.2" font-size="10" text-anchor="end" fill="#1a1a1a" font-weight="normal"  stroke="#1a1a1a" stroke-width="0.2">20</text>
<text x="486" y="109.4" font-size="10" text-anchor="end" fill="#1a1a1a" font-weight="normal"  stroke="#1a1a1a" stroke-width="0.2">40</text>
<text x="486" y="77.6" font-size="10" text-anchor="end" fill="#1a1a1a" font-weight="normal"  stroke="#1a1a1a" stroke-width="0.2">60</text>
<text x="486" y="45.8" font-size="10" text-anchor="end" fill="#1a1a1a" font-weight="normal"  stroke="#1a1a1a" stroke-width="0.2">80</text>
<text x="486" y="14" font-size="10" text-anchor="end" fill="#1a1a1a" font-weight="normal"  stroke="#1a1a1a" stroke-width="0.2">100</text>
<text x="578.4" y="195.5" font-size="10" text-anchor="middle" fill="#1a1a1a" font-weight="normal"  stroke="#1a1a1a" stroke-width="0.2">Potential (V vs.RHE)</text>
<text transform="translate(463.2,89.6) rotate(-90)" font-size="10" text-anchor="middle" fill="#1a1a1a" stroke="#1a1a1a" stroke-width="0.2">CO Faradaic efficiency (%)</text>
<line x1="579" y1="139.2" x2="600.8" y2="139.2" stroke="#22a9e0" stroke-width="1.5" />
<circle cx="590" cy="139.2" r="2.3" fill="#fff" stroke="#22a9e0" stroke-width="1.1"/>
<text x="604.4" y="142.7" font-size="10" text-anchor="start" fill="#1a1a1a" font-weight="normal"  stroke="#1a1a1a" stroke-width="0.2">Reference</text>
<line x1="579" y1="155.2" x2="600.8" y2="155.2" stroke="#dc4a5c" stroke-width="1.5" />
<circle cx="590" cy="155.2" r="2.3" fill="#fff" stroke="#dc4a5c" stroke-width="1.1"/>
<text x="604.4" y="158.7" font-size="10" text-anchor="start" fill="#1a1a1a" font-weight="normal"  stroke="#1a1a1a" stroke-width="0.2">Nanobubble</text>
<text x="2.2" y="218.8" font-size="12" text-anchor="start" fill="#1a1a1a" font-weight="normal"  stroke="#1a1a1a" stroke-width="0.2">d</text>
<rect x="34.4" y="372.7" width="105.3" height="10.7" fill="#f6f0c4"/>
<path d="M34.5,322 C34.6,321.58 34.88,321.17 35.1,319.5 C35.32,317.83 35.57,314.2 35.8,312 C36.03,309.8 36.02,308.42 36.5,306.3 C36.98,304.18 37.85,301.23 38.7,299.3 C39.55,297.37 40.13,296.42 41.6,294.7 C43.07,292.98 45.07,290.73 47.5,289 C49.93,287.27 54.12,285.42 56.2,284.3 C58.28,283.18 57.95,283.38 60,282.3 C62.05,281.22 65.67,279.32 68.5,277.8 C71.33,276.28 74.18,275.03 77,273.2 C79.82,271.37 82.58,269 85.4,266.8 C88.22,264.6 91.07,262.03 93.9,260 C96.73,257.97 99.58,256.08 102.4,254.6 C105.22,253.12 107.98,252.1 110.8,251.1 C113.62,250.1 116.47,249.3 119.3,248.6 C122.13,247.9 124.4,247.45 127.8,246.9 C131.2,246.35 137.72,245.57 139.7,245.3 L139.7,372.7 L34.4,372.7 Z" fill="#e1a9b3"/>
<path d="M34.5,322 C34.58,321.42 34.78,319.65 35,318.5 C35.22,317.35 35.18,316.4 35.8,315.1 C36.42,313.8 37.25,312.03 38.7,310.7 C40.15,309.37 42.32,308.18 44.5,307.1 C46.68,306.02 49.37,305.28 51.8,304.2 C54.23,303.12 56.32,301.97 59.1,300.6 C61.88,299.23 65.52,297.62 68.5,296 C71.48,294.38 74.18,292.6 77,290.9 C79.82,289.2 82.58,287.35 85.4,285.8 C88.22,284.25 91.07,282.78 93.9,281.6 C96.73,280.42 99.58,279.55 102.4,278.7 C105.22,277.85 107.98,277.08 110.8,276.5 C113.62,275.92 116.47,275.57 119.3,275.2 C122.13,274.83 124.4,274.57 127.8,274.3 C131.2,274.03 137.72,273.72 139.7,273.6 L139.7,372.7 L34.4,372.7 Z" fill="#f1d3bd"/>
<path d="M34.5,323 C34.62,322.25 34.5,320.3 35.2,318.5 C35.9,316.7 37.15,313.93 38.7,312.2 C40.25,310.47 42.32,309.32 44.5,308.1 C46.68,306.88 49.37,305.72 51.8,304.9 C54.23,304.08 56.07,303.73 59.1,303.2 C62.13,302.67 67.02,302.02 70,301.7 C72.98,301.38 73.02,301.5 77,301.3 C80.98,301.1 88.27,300.7 93.9,300.5 C99.53,300.3 103.17,300.13 110.8,300.1 C118.43,300.07 134.88,300.27 139.7,300.3 L139.7,372.7 L34.4,372.7 Z" fill="#c1e1f1"/>
<path d="M34.5,322 C34.6,321.58 34.88,321.17 35.1,319.5 C35.32,317.83 35.57,314.2 35.8,312 C36.03,309.8 36.02,308.42 36.5,306.3 C36.98,304.18 37.85,301.23 38.7,299.3 C39.55,297.37 40.13,296.42 41.6,294.7 C43.07,292.98 45.07,290.73 47.5,289 C49.93,287.27 54.12,285.42 56.2,284.3 C58.28,283.18 57.95,283.38 60,282.3 C62.05,281.22 65.67,279.32 68.5,277.8 C71.33,276.28 74.18,275.03 77,273.2 C79.82,271.37 82.58,269 85.4,266.8 C88.22,264.6 91.07,262.03 93.9,260 C96.73,257.97 99.58,256.08 102.4,254.6 C105.22,253.12 107.98,252.1 110.8,251.1 C113.62,250.1 116.47,249.3 119.3,248.6 C122.13,247.9 124.4,247.45 127.8,246.9 C131.2,246.35 137.72,245.57 139.7,245.3" fill="none" stroke="#7ccbea" stroke-width="0.9" stroke-linejoin="round" />
<rect x="139.7" y="372.7" width="105.7" height="10.7" fill="#f6f0c4"/>
<path d="M139.9,322 C139.98,321.58 140.17,321.17 140.4,319.5 C140.63,317.83 140.95,314.18 141.3,312 C141.65,309.82 141.93,308.32 142.5,306.4 C143.07,304.48 143.85,302.2 144.7,300.5 C145.55,298.8 146.13,297.65 147.6,296.2 C149.07,294.75 151.07,293.28 153.5,291.8 C155.93,290.32 159.45,288.77 162.2,287.3 C164.95,285.83 167.7,284.12 170,283 C172.3,281.88 172.77,282.02 176,280.6 C179.23,279.18 183.95,276.82 189.4,274.5 C194.85,272.18 202.25,269.55 208.7,266.7 C215.15,263.85 221.98,260.08 228.1,257.4 C234.22,254.72 242.52,251.73 245.4,250.6 L245.4,372.7 L139.7,372.7 Z" fill="#e1a9b3"/>
<path d="M139.9,322 C140.08,321.33 140.68,318.95 141,318 C141.32,317.05 141.18,317.15 141.8,316.3 C142.42,315.45 143.25,314.2 144.7,312.9 C146.15,311.6 148.32,309.72 150.5,308.5 C152.68,307.28 155.37,306.57 157.8,305.6 C160.23,304.63 163.07,303.57 165.1,302.7 C167.13,301.83 168.18,301.08 170,300.4 C171.82,299.72 172.77,299.47 176,298.6 C179.23,297.73 183.95,296.63 189.4,295.2 C194.85,293.77 202.25,292.1 208.7,290 C215.15,287.9 221.98,284.67 228.1,282.6 C234.22,280.53 242.52,278.43 245.4,277.6 L245.4,372.7 L139.7,372.7 Z" fill="#f1d3bd"/>
<path d="M139.9,323 C140.1,322.17 140.3,319.57 141.1,318 C141.9,316.43 143.13,315 144.7,313.6 C146.27,312.2 148.32,310.68 150.5,309.6 C152.68,308.52 155.37,307.88 157.8,307.1 C160.23,306.32 163.07,305.55 165.1,304.9 C167.13,304.25 168.18,303.68 170,303.2 C171.82,302.72 172.77,302.58 176,302 C179.23,301.42 183.95,300.35 189.4,299.7 C194.85,299.05 202.25,298.43 208.7,298.1 C215.15,297.77 221.98,297.77 228.1,297.7 C234.22,297.63 242.52,297.7 245.4,297.7 L245.4,372.7 L139.7,372.7 Z" fill="#c1e1f1"/>
<path d="M139.9,322 C139.98,321.58 140.17,321.17 140.4,319.5 C140.63,317.83 140.95,314.18 141.3,312 C141.65,309.82 141.93,308.32 142.5,306.4 C143.07,304.48 143.85,302.2 144.7,300.5 C145.55,298.8 146.13,297.65 147.6,296.2 C149.07,294.75 151.07,293.28 153.5,291.8 C155.93,290.32 159.45,288.77 162.2,287.3 C164.95,285.83 167.7,284.12 170,283 C172.3,281.88 172.77,282.02 176,280.6 C179.23,279.18 183.95,276.82 189.4,274.5 C194.85,272.18 202.25,269.55 208.7,266.7 C215.15,263.85 221.98,260.08 228.1,257.4 C234.22,254.72 242.52,251.73 245.4,250.6" fill="none" stroke="#7ccbea" stroke-width="0.9" stroke-linejoin="round" />
<rect x="34.4" y="225.6" width="211" height="157.8" fill="none" stroke="#3a3a3a" stroke-width="1.1"/>
<line x1="139.7" y1="225.6" x2="139.7" y2="383.4" stroke="#3a3a3a" stroke-width="1.1" />
<line x1="137.5" y1="383.4" x2="139.7" y2="383.4" stroke="#3a3a3a" stroke-width="1" />
<line x1="137.5" y1="346.36" x2="139.7" y2="346.36" stroke="#3a3a3a" stroke-width="1" />
<line x1="137.5" y1="309.32" x2="139.7" y2="309.32" stroke="#3a3a3a" stroke-width="1" />
<line x1="137.5" y1="272.28" x2="139.7" y2="272.28" stroke="#3a3a3a" stroke-width="1" />
<line x1="137.5" y1="235.24" x2="139.7" y2="235.24" stroke="#3a3a3a" stroke-width="1" />
<line x1="138.3" y1="364.88" x2="139.7" y2="364.88" stroke="#3a3a3a" stroke-width="1" />
<line x1="138.3" y1="327.84" x2="139.7" y2="327.84" stroke="#3a3a3a" stroke-width="1" />
<line x1="138.3" y1="290.8" x2="139.7" y2="290.8" stroke="#3a3a3a" stroke-width="1" />
<line x1="138.3" y1="253.76" x2="139.7" y2="253.76" stroke="#3a3a3a" stroke-width="1" />
<line x1="31.8" y1="383.4" x2="34.4" y2="383.4" stroke="#3a3a3a" stroke-width="1" />
<line x1="31.8" y1="346.36" x2="34.4" y2="346.36" stroke="#3a3a3a" stroke-width="1" />
<line x1="31.8" y1="309.32" x2="34.4" y2="309.32" stroke="#3a3a3a" stroke-width="1" />
<line x1="31.8" y1="272.28" x2="34.4" y2="272.28" stroke="#3a3a3a" stroke-width="1" />
<line x1="31.8" y1="235.24" x2="34.4" y2="235.24" stroke="#3a3a3a" stroke-width="1" />
<line x1="32.8" y1="364.88" x2="34.4" y2="364.88" stroke="#3a3a3a" stroke-width="1" />
<line x1="32.8" y1="327.84" x2="34.4" y2="327.84" stroke="#3a3a3a" stroke-width="1" />
<line x1="32.8" y1="290.8" x2="34.4" y2="290.8" stroke="#3a3a3a" stroke-width="1" />
<line x1="32.8" y1="253.76" x2="34.4" y2="253.76" stroke="#3a3a3a" stroke-width="1" />
<text x="30" y="386.9" font-size="10" text-anchor="end" fill="#1a1a1a" font-weight="normal"  stroke="#1a1a1a" stroke-width="0.2">0.0</text>
<text x="30" y="349.86" font-size="10" text-anchor="end" fill="#1a1a1a" font-weight="normal"  stroke="#1a1a1a" stroke-width="0.2">0.4</text>
<text x="30" y="312.82" font-size="10" text-anchor="end" fill="#1a1a1a" font-weight="normal"  stroke="#1a1a1a" stroke-width="0.2">0.8</text>
<text x="30" y="275.78" font-size="10" text-anchor="end" fill="#1a1a1a" font-weight="normal"  stroke="#1a1a1a" stroke-width="0.2">1.2</text>
<text x="30" y="238.74" font-size="10" text-anchor="end" fill="#1a1a1a" font-weight="normal"  stroke="#1a1a1a" stroke-width="0.2">1.6</text>
<line x1="34.4" y1="383.4" x2="34.4" y2="386" stroke="#3a3a3a" stroke-width="1" />
<line x1="66.4" y1="383.4" x2="66.4" y2="386" stroke="#3a3a3a" stroke-width="1" />
<line x1="98.4" y1="383.4" x2="98.4" y2="386" stroke="#3a3a3a" stroke-width="1" />
<line x1="130.4" y1="383.4" x2="130.4" y2="386" stroke="#3a3a3a" stroke-width="1" />
<line x1="139.7" y1="383.4" x2="139.7" y2="386" stroke="#3a3a3a" stroke-width="1" />
<line x1="171.7" y1="383.4" x2="171.7" y2="386" stroke="#3a3a3a" stroke-width="1" />
<line x1="203.7" y1="383.4" x2="203.7" y2="386" stroke="#3a3a3a" stroke-width="1" />
<line x1="235.7" y1="383.4" x2="235.7" y2="386" stroke="#3a3a3a" stroke-width="1" />
<line x1="50.4" y1="383.4" x2="50.4" y2="385" stroke="#3a3a3a" stroke-width="1" />
<line x1="82.4" y1="383.4" x2="82.4" y2="385" stroke="#3a3a3a" stroke-width="1" />
<line x1="114.4" y1="383.4" x2="114.4" y2="385" stroke="#3a3a3a" stroke-width="1" />
<line x1="155.7" y1="383.4" x2="155.7" y2="385" stroke="#3a3a3a" stroke-width="1" />
<line x1="187.7" y1="383.4" x2="187.7" y2="385" stroke="#3a3a3a" stroke-width="1" />
<line x1="219.7" y1="383.4" x2="219.7" y2="385" stroke="#3a3a3a" stroke-width="1" />
<text x="34.4" y="395.8" font-size="10" text-anchor="middle" fill="#1a1a1a" font-weight="normal"  stroke="#1a1a1a" stroke-width="0.2">0</text>
<text x="66.4" y="395.8" font-size="10" text-anchor="middle" fill="#1a1a1a" font-weight="normal"  stroke="#1a1a1a" stroke-width="0.2">10</text>
<text x="98.4" y="395.8" font-size="10" text-anchor="middle" fill="#1a1a1a" font-weight="normal"  stroke="#1a1a1a" stroke-width="0.2">20</text>
<text x="130.7" y="395.8" font-size="10" text-anchor="middle" fill="#1a1a1a" font-weight="normal"  stroke="#1a1a1a" stroke-width="0.2">30</text>
<text x="139.9" y="395.8" font-size="10" text-anchor="middle" fill="#1a1a1a" font-weight="normal"  stroke="#1a1a1a" stroke-width="0.2">0</text>
<text x="171.9" y="395.8" font-size="10" text-anchor="middle" fill="#1a1a1a" font-weight="normal"  stroke="#1a1a1a" stroke-width="0.2">10</text>
<text x="203.9" y="395.8" font-size="10" text-anchor="middle" fill="#1a1a1a" font-weight="normal"  stroke="#1a1a1a" stroke-width="0.2">20</text>
<text x="235.9" y="395.8" font-size="10" text-anchor="middle" fill="#1a1a1a" font-weight="normal"  stroke="#1a1a1a" stroke-width="0.2">30</text>
<text x="155.9" y="410.2" font-size="10" text-anchor="middle" fill="#1a1a1a" stroke="#1a1a1a" stroke-width="0.2">Current density (mA cm<tspan font-size="6.5" dy="-4.1">-2</tspan><tspan dy="4.1">)</tspan></text>
<text transform="translate(10,304.1) rotate(-90)" font-size="9.9" text-anchor="middle" fill="#1a1a1a" stroke="#1a1a1a" stroke-width="0.2">Potential (V)</text>
<text x="38.8" y="236.3" font-size="9.85" text-anchor="start" fill="#1a1a1a" font-weight="normal"  stroke="#1a1a1a" stroke-width="0.2">Reference case</text>
<text x="143.5" y="236.3" font-size="9.9" text-anchor="start" fill="#1a1a1a" font-weight="normal"  stroke="#1a1a1a" stroke-width="0.2">Nanobubble case</text>
<text x="137" y="244.9" font-size="10" text-anchor="end" fill="#1a1a1a" font-weight="normal"  stroke="#1a1a1a" stroke-width="0.2">Ohmic</text>
<text x="136.7" y="269.1" font-size="10" text-anchor="end" fill="#1a1a1a" font-weight="normal"  stroke="#1a1a1a" stroke-width="0.2">Nernstian</text>
<text x="136.7" y="299.1" font-size="10" text-anchor="end" fill="#1a1a1a" font-weight="normal"  stroke="#1a1a1a" stroke-width="0.2">Mass transport</text>
<text x="136.7" y="341.9" font-size="10" text-anchor="end" fill="#1a1a1a" font-weight="normal"  stroke="#1a1a1a" stroke-width="0.2">COER</text>
<text x="136.9" y="382" font-size="10" text-anchor="end" fill="#1a1a1a" font-weight="normal"  stroke="#1a1a1a" stroke-width="0.2">Thermodynamic</text>
<text x="255.6" y="219" font-size="12" text-anchor="start" fill="#1a1a1a" font-weight="normal"  stroke="#1a1a1a" stroke-width="0.2">e</text>
<rect x="388.5" y="226.4" width="105.9" height="157.1" fill="#fae7da"/>
<text x="402.1" y="212.4" font-size="10" text-anchor="end" fill="#e8707a" font-weight="normal"  stroke="#e8707a" stroke-width="0.2">Electrode</text>
<text x="415.2" y="212.4" font-size="10" text-anchor="start" fill="#1a1a1a" font-weight="normal"  stroke="#1a1a1a" stroke-width="0.2">Diffusion layer</text>
<text x="487.5" y="212.4" font-size="10" text-anchor="start" fill="#1aa7e2" font-weight="normal"  stroke="#1aa7e2" stroke-width="0.2">Bulk</text>
<line x1="388.9" y1="220.9" x2="494.5" y2="220.9" stroke="#e9ab93" stroke-width="1.8" />
<circle cx="388.9" cy="220.9" r="2.3" fill="#e8707a"/>
<circle cx="494.6" cy="220.9" r="2.4" fill="#12a6e6"/>
<path d="M388.5,354.3 C390.75,352.33 397.33,346.45 402,342.5 C406.67,338.55 411.5,334.72 416.5,330.6 C421.5,326.48 426.75,322 432,317.8 C437.25,313.6 443.17,309.03 448,305.4 C452.83,301.77 456.8,298.98 461,296 C465.2,293.02 469.37,290.08 473.2,287.5 C477.03,284.92 480.5,282.67 484,280.5 C487.5,278.33 492.5,275.5 494.2,274.5" fill="none" stroke="#dc4a5a" stroke-width="1.6" stroke-linejoin="round" />
<path d="M388.5,376.4 C389.75,375.92 393.43,374.57 396,373.5 C398.57,372.43 400.48,371.63 403.9,370 C407.32,368.37 411.77,366.33 416.5,363.7 C421.23,361.07 427.05,357.62 432.3,354.2 C437.55,350.78 442.75,347.13 448,343.2 C453.25,339.27 458.55,334.8 463.8,330.6 C469.05,326.4 474.43,322.2 479.5,318 C484.57,313.8 491.75,307.5 494.2,305.4" fill="none" stroke="#1ba9e1" stroke-width="1.6" stroke-linejoin="round" />
<text x="390.5" y="235.9" font-size="9.6" text-anchor="start" fill="#e8737e" font-weight="bold"  stroke="#e8737e" stroke-width="0.2">0</text>
<line x1="389.3" y1="239.1" x2="421.3" y2="239.1" stroke="#e8737e" stroke-width="1.4" />
<path d="M415.4,235.7 L421.6,239.1 L415.4,242.5" fill="none" stroke="#e8737e" stroke-width="1.4"/>
<text x="394.8" y="252.5" font-size="8.2" text-anchor="start" fill="#e8737e" font-weight="bold"  stroke="#e8737e" stroke-width="0.2">OH-, CO</text>
<text x="492.6" y="235.9" font-size="10.5" text-anchor="end" fill="#1ba9e1" font-weight="bold" font-style="italic" stroke="#1ba9e1" stroke-width="0.2">&#948;</text>
<line x1="462.2" y1="239.1" x2="494" y2="239.1" stroke="#1ba9e1" stroke-width="1.4" />
<path d="M467.8,235.7 L461.8,239.1 L467.8,242.5" fill="none" stroke="#1ba9e1" stroke-width="1.4"/>
<text x="448.3" y="252.5" font-size="8.2" fill="#1ba9e1" font-weight="bold" stroke="#1ba9e1" stroke-width="0.2">CO<tspan font-size="5.5" dy="1.8">2</tspan><tspan dy="-1.8">(aq/NB)</tspan></text>
<text x="423.4" y="376.3" font-size="10" fill="#1a1a1a" stroke="#1a1a1a" stroke-width="0.2">@ -20 mA cm<tspan font-size="6.5" dy="-4.1">-2</tspan></text>
<path d="M289.2,359.3 C290.92,359.98 296.07,361.78 299.5,363.4 C302.93,365.02 306.37,367.28 309.8,369 C313.23,370.72 316.67,372.57 320.1,373.7 C323.53,374.83 327.32,375.32 330.4,375.8 C333.48,376.28 333.67,376.45 338.6,376.6 C343.53,376.75 351.77,376.68 360,376.7 C368.23,376.72 383.33,376.7 388,376.7" fill="none" stroke="#dc4a5a" stroke-width="1.6" stroke-dasharray="3.6,3.6" stroke-linejoin="round" />
<path d="M314.9,353.1 C316.45,354.2 320.93,357.57 324.2,359.7 C327.47,361.83 331.07,363.83 334.5,365.9 C337.93,367.97 342.05,370.65 344.8,372.1 C347.55,373.55 349.13,374.02 351,374.6 C352.87,375.18 355.17,375.43 356,375.6" fill="none" stroke="#1ba9e1" stroke-width="1.6" stroke-dasharray="3.6,3.6" stroke-linejoin="round" />
<path d="M283.6,376.8 C284.18,376.77 284.45,376.87 287.1,376.6 C289.75,376.33 295.72,375.88 299.5,375.2 C303.28,374.52 307.05,373.45 309.8,372.5 C312.55,371.55 313.6,371.28 316,369.5 C318.4,367.72 321.12,365.15 324.2,361.8 C327.28,358.45 331.07,353.7 334.5,349.4 C337.93,345.1 341.37,340.45 344.8,336 C348.23,331.55 351.67,326.98 355.1,322.7 C358.53,318.42 362.13,314.33 365.4,310.3 C368.67,306.27 371.93,302.3 374.7,298.5 C377.47,294.7 379.7,291.25 382,287.5 C384.3,283.75 387.42,277.92 388.5,276" fill="none" stroke="#dc4a5a" stroke-width="1.6" stroke-linejoin="round" />
<path d="M314.9,377.2 C318.17,377.13 329.52,377.03 334.5,376.8 C339.48,376.57 341.72,376.42 344.8,375.8 C347.88,375.18 350.25,374.75 353,373.1 C355.75,371.45 358.55,369.5 361.3,365.9 C364.05,362.3 366.77,356.98 369.5,351.5 C372.23,346.02 375.3,338.5 377.7,333 C380.1,327.5 382.1,322.75 383.9,318.5 C385.7,314.25 387.73,309.33 388.5,307.5" fill="none" stroke="#1ba9e1" stroke-width="1.6" stroke-linejoin="round" />
<text x="361.5" y="371.2" font-size="6.6" fill="#2aa8e0" stroke="#2aa8e0" stroke-width="0.2">7.19×10<tspan font-size="4.5" dy="-2.5">-5</tspan></text>
<path d="M385,371.5 L387.6,375.8" stroke="#1ba9e1" stroke-width="0.9" fill="none"/><path d="M385.6,375.4 L388.2,376.4 L387.9,373.5 Z" fill="#1ba9e1"/>
<text x="352.1" y="383.2" font-size="6.6" fill="#e8707a" stroke="#e8707a" stroke-width="0.2">4.98×10<tspan font-size="4.5" dy="-2.5">-5</tspan></text>
<path d="M382.5,381.5 L386.8,378" stroke="#e8707a" stroke-width="0.9" fill="none"/><path d="M383.2,380.6 L387.9,377.2 L386.2,381.8 Z" fill="#e8707a"/>
<rect x="283.2" y="226.4" width="211.2" height="157.1" fill="none" stroke="#3a3a3a" stroke-width="1.1"/>
<line x1="388.5" y1="226.4" x2="388.5" y2="383.5" stroke="#3a3a3a" stroke-width="1.1" />
<line x1="280.6" y1="377.2" x2="283.2" y2="377.2" stroke="#3a3a3a" stroke-width="1" />
<line x1="280.6" y1="334.1" x2="283.2" y2="334.1" stroke="#3a3a3a" stroke-width="1" />
<line x1="280.6" y1="291" x2="283.2" y2="291" stroke="#3a3a3a" stroke-width="1" />
<line x1="280.6" y1="247.9" x2="283.2" y2="247.9" stroke="#3a3a3a" stroke-width="1" />
<line x1="281.6" y1="355.65" x2="283.2" y2="355.65" stroke="#3a3a3a" stroke-width="1" />
<line x1="281.6" y1="312.55" x2="283.2" y2="312.55" stroke="#3a3a3a" stroke-width="1" />
<line x1="281.6" y1="269.45" x2="283.2" y2="269.45" stroke="#3a3a3a" stroke-width="1" />
<line x1="281.6" y1="226.35" x2="283.2" y2="226.35" stroke="#3a3a3a" stroke-width="1" />
<text x="279" y="380.7" font-size="10" text-anchor="end" fill="#1a1a1a" font-weight="normal"  stroke="#1a1a1a" stroke-width="0.2">0</text>
<text x="279" y="337.6" font-size="10" text-anchor="end" fill="#1a1a1a" font-weight="normal"  stroke="#1a1a1a" stroke-width="0.2">20</text>
<text x="279" y="294.5" font-size="10" text-anchor="end" fill="#1a1a1a" font-weight="normal"  stroke="#1a1a1a" stroke-width="0.2">40</text>
<text x="279" y="251.4" font-size="10" text-anchor="end" fill="#1a1a1a" font-weight="normal"  stroke="#1a1a1a" stroke-width="0.2">60</text>
<line x1="386.3" y1="377.2" x2="388.5" y2="377.2" stroke="#3a3a3a" stroke-width="1" />
<line x1="386.3" y1="334.1" x2="388.5" y2="334.1" stroke="#3a3a3a" stroke-width="1" />
<line x1="386.3" y1="291" x2="388.5" y2="291" stroke="#3a3a3a" stroke-width="1" />
<line x1="386.3" y1="247.9" x2="388.5" y2="247.9" stroke="#3a3a3a" stroke-width="1" />
<line x1="387.1" y1="355.65" x2="388.5" y2="355.65" stroke="#3a3a3a" stroke-width="1" />
<line x1="387.1" y1="312.55" x2="388.5" y2="312.55" stroke="#3a3a3a" stroke-width="1" />
<line x1="387.1" y1="269.45" x2="388.5" y2="269.45" stroke="#3a3a3a" stroke-width="1" />
<line x1="387.1" y1="226.35" x2="388.5" y2="226.35" stroke="#3a3a3a" stroke-width="1" />
<line x1="283.2" y1="383.5" x2="283.2" y2="386.1" stroke="#3a3a3a" stroke-width="1" />
<line x1="309.52" y1="383.5" x2="309.52" y2="386.1" stroke="#3a3a3a" stroke-width="1" />
<line x1="335.85" y1="383.5" x2="335.85" y2="386.1" stroke="#3a3a3a" stroke-width="1" />
<line x1="362.18" y1="383.5" x2="362.18" y2="386.1" stroke="#3a3a3a" stroke-width="1" />
<line x1="388.5" y1="383.5" x2="388.5" y2="386.1" stroke="#3a3a3a" stroke-width="1" />
<line x1="296.36" y1="383.5" x2="296.36" y2="385.1" stroke="#3a3a3a" stroke-width="1" />
<line x1="322.69" y1="383.5" x2="322.69" y2="385.1" stroke="#3a3a3a" stroke-width="1" />
<line x1="349.01" y1="383.5" x2="349.01" y2="385.1" stroke="#3a3a3a" stroke-width="1" />
<line x1="375.34" y1="383.5" x2="375.34" y2="385.1" stroke="#3a3a3a" stroke-width="1" />
<text x="283.2" y="395.8" font-size="10" text-anchor="middle" fill="#1a1a1a" font-weight="normal"  stroke="#1a1a1a" stroke-width="0.2">-40</text>
<text x="309.52" y="395.8" font-size="10" text-anchor="middle" fill="#1a1a1a" font-weight="normal"  stroke="#1a1a1a" stroke-width="0.2">-30</text>
<text x="335.85" y="395.8" font-size="10" text-anchor="middle" fill="#1a1a1a" font-weight="normal"  stroke="#1a1a1a" stroke-width="0.2">-20</text>
<text x="362.18" y="395.8" font-size="10" text-anchor="middle" fill="#1a1a1a" font-weight="normal"  stroke="#1a1a1a" stroke-width="0.2">-10</text>
<text x="388.5" y="395.8" font-size="10" text-anchor="middle" fill="#1a1a1a" font-weight="normal"  stroke="#1a1a1a" stroke-width="0.2"></text>
<line x1="414.98" y1="383.5" x2="414.98" y2="386.1" stroke="#3a3a3a" stroke-width="1" />
<line x1="441.45" y1="383.5" x2="441.45" y2="386.1" stroke="#3a3a3a" stroke-width="1" />
<line x1="467.92" y1="383.5" x2="467.92" y2="386.1" stroke="#3a3a3a" stroke-width="1" />
<line x1="494.4" y1="383.5" x2="494.4" y2="386.1" stroke="#3a3a3a" stroke-width="1" />
<line x1="401.74" y1="383.5" x2="401.74" y2="385.1" stroke="#3a3a3a" stroke-width="1" />
<line x1="428.21" y1="383.5" x2="428.21" y2="385.1" stroke="#3a3a3a" stroke-width="1" />
<line x1="454.69" y1="383.5" x2="454.69" y2="385.1" stroke="#3a3a3a" stroke-width="1" />
<line x1="481.16" y1="383.5" x2="481.16" y2="385.1" stroke="#3a3a3a" stroke-width="1" />
<text x="414.98" y="395.8" font-size="10" text-anchor="middle" fill="#1a1a1a" font-weight="normal"  stroke="#1a1a1a" stroke-width="0.2">20</text>
<text x="441.45" y="395.8" font-size="10" text-anchor="middle" fill="#1a1a1a" font-weight="normal"  stroke="#1a1a1a" stroke-width="0.2">40</text>
<text x="467.92" y="395.8" font-size="10" text-anchor="middle" fill="#1a1a1a" font-weight="normal"  stroke="#1a1a1a" stroke-width="0.2">60</text>
<text x="494.4" y="395.8" font-size="10" text-anchor="middle" fill="#1a1a1a" font-weight="normal"  stroke="#1a1a1a" stroke-width="0.2">80</text>
<text x="388.5" y="395.8" font-size="10" text-anchor="middle" fill="#1a1a1a" font-weight="normal"  stroke="#1a1a1a" stroke-width="0.2">0</text>
<text x="335.8" y="410.2" font-size="10" text-anchor="middle" fill="#1a1a1a" stroke="#1a1a1a" stroke-width="0.2">Current density (mA cm<tspan font-size="6.5" dy="-4.1">-2</tspan><tspan dy="4.1">)</tspan></text>
<text x="441.6" y="410.2" font-size="10" text-anchor="middle" fill="#1a1a1a" font-weight="normal"  stroke="#1a1a1a" stroke-width="0.2">Location (µm)</text>
<text transform="translate(264.2,304.5) rotate(-90)" font-size="10" text-anchor="middle" fill="#1a1a1a" stroke="#1a1a1a" stroke-width="0.2">Concentration (mM)</text>
<text x="287.7" y="236.5" font-size="10" fill="#1a1a1a" stroke="#1a1a1a" stroke-width="0.2">OH<tspan font-size="6.5" dy="-4.1">-</tspan><tspan dy="4.1"> concentration</tspan></text>
<line x1="287.5" y1="245" x2="309.8" y2="245" stroke="#1ba9e1" stroke-width="1.6" stroke-dasharray="3.2,3.9"/>
<text x="313.4" y="249" font-size="10" text-anchor="start" fill="#1a1a1a" font-weight="normal"  stroke="#1a1a1a" stroke-width="0.2">Reference</text>
<line x1="287.5" y1="257.3" x2="309.8" y2="257.3" stroke="#dc4a5a" stroke-width="1.6" stroke-dasharray="3.2,3.9"/>
<text x="313.4" y="261.2" font-size="10" text-anchor="start" fill="#1a1a1a" font-weight="normal"  stroke="#1a1a1a" stroke-width="0.2">Nanobubble</text>
<text x="287.8" y="286.1" font-size="10" fill="#1a1a1a" stroke="#1a1a1a" stroke-width="0.2">CO<tspan font-size="6.5" dy="2.6">2</tspan><tspan dy="-2.6"> concentration</tspan></text>
<line x1="287.6" y1="296.6" x2="309.9" y2="296.6" stroke="#1ba9e1" stroke-width="1.6" />
<text x="313.3" y="300" font-size="10" text-anchor="start" fill="#1a1a1a" font-weight="normal"  stroke="#1a1a1a" stroke-width="0.2">Reference</text>
<line x1="287.6" y1="308.7" x2="309.9" y2="308.7" stroke="#dc4a5a" stroke-width="1.6" />
<text x="313.3" y="312.1" font-size="10" text-anchor="start" fill="#1a1a1a" font-weight="normal"  stroke="#1a1a1a" stroke-width="0.2">Nanobubble</text>
<text x="513.2" y="218.8" font-size="12" text-anchor="start" fill="#1a1a1a" font-weight="normal"  stroke="#1a1a1a" stroke-width="0.2">f</text>
<path d="M543,290.9 C545,291.32 551.33,292.55 555,293.4 C558.67,294.25 560.83,294.98 565,296 C569.17,297.02 575.03,298.27 580,299.5 C584.97,300.73 589.8,301.85 594.8,303.4 C599.8,304.95 605.03,306.82 610,308.8 C614.97,310.78 620.6,313.35 624.6,315.3 C628.6,317.25 631.03,318.77 634,320.5 C636.97,322.23 639.9,324.03 642.4,325.7 C644.9,327.37 647.02,329 649,330.5 C650.98,332 652.63,333.15 654.3,334.7 C655.97,336.25 657.5,337.75 659,339.8 C660.5,341.85 662.25,344.97 663.3,347 C664.35,349.03 664.82,350.5 665.3,352 C665.78,353.5 666.02,354.33 666.2,356 C666.38,357.67 666.37,361 666.4,362 L666.4,383.4 L543,383.4 Z" fill="#e5aab5"/>
<path d="M543,353 C546.67,353.67 558.83,355.87 565,357 C571.17,358.13 575.03,358.8 580,359.8 C584.97,360.8 589.8,361.87 594.8,363 C599.8,364.13 605.03,365.37 610,366.6 C614.97,367.83 619.6,369.13 624.6,370.4 C629.6,371.67 635.05,372.97 640,374.2 C644.95,375.43 650.8,376.78 654.3,377.8 C657.8,378.82 659.02,379.43 661,380.3 C662.98,381.17 665.33,382.55 666.2,383 L666.4,383.4 L543,383.4 Z" fill="#c4e2ef"/>
<rect x="543" y="225.8" width="123.4" height="157.6" fill="none" stroke="#3a3a3a" stroke-width="1.1"/>
<line x1="540.4" y1="383.2" x2="543" y2="383.2" stroke="#3a3a3a" stroke-width="1" />
<line x1="540.4" y1="348.25" x2="543" y2="348.25" stroke="#3a3a3a" stroke-width="1" />
<line x1="540.4" y1="313.3" x2="543" y2="313.3" stroke="#3a3a3a" stroke-width="1" />
<line x1="540.4" y1="278.35" x2="543" y2="278.35" stroke="#3a3a3a" stroke-width="1" />
<line x1="540.4" y1="243.4" x2="543" y2="243.4" stroke="#3a3a3a" stroke-width="1" />
<line x1="541.4" y1="365.72" x2="543" y2="365.72" stroke="#3a3a3a" stroke-width="1" />
<line x1="541.4" y1="330.77" x2="543" y2="330.77" stroke="#3a3a3a" stroke-width="1" />
<line x1="541.4" y1="295.82" x2="543" y2="295.82" stroke="#3a3a3a" stroke-width="1" />
<line x1="541.4" y1="260.88" x2="543" y2="260.88" stroke="#3a3a3a" stroke-width="1" />
<line x1="541.4" y1="225.92" x2="543" y2="225.92" stroke="#3a3a3a" stroke-width="1" />
<text x="538.5" y="386.7" font-size="10" text-anchor="end" fill="#1a1a1a" font-weight="normal"  stroke="#1a1a1a" stroke-width="0.2">0.0</text>
<text x="538.5" y="351.75" font-size="10" text-anchor="end" fill="#1a1a1a" font-weight="normal"  stroke="#1a1a1a" stroke-width="0.2">0.5</text>
<text x="538.5" y="316.8" font-size="10" text-anchor="end" fill="#1a1a1a" font-weight="normal"  stroke="#1a1a1a" stroke-width="0.2">1.0</text>
<text x="538.5" y="281.85" font-size="10" text-anchor="end" fill="#1a1a1a" font-weight="normal"  stroke="#1a1a1a" stroke-width="0.2">1.5</text>
<text x="538.5" y="246.9" font-size="10" text-anchor="end" fill="#1a1a1a" font-weight="normal"  stroke="#1a1a1a" stroke-width="0.2">2.0</text>
<line x1="543" y1="383.4" x2="543" y2="386" stroke="#3a3a3a" stroke-width="1" />
<line x1="567.68" y1="383.4" x2="567.68" y2="386" stroke="#3a3a3a" stroke-width="1" />
<line x1="592.36" y1="383.4" x2="592.36" y2="386" stroke="#3a3a3a" stroke-width="1" />
<line x1="617.04" y1="383.4" x2="617.04" y2="386" stroke="#3a3a3a" stroke-width="1" />
<line x1="641.72" y1="383.4" x2="641.72" y2="386" stroke="#3a3a3a" stroke-width="1" />
<line x1="666.4" y1="383.4" x2="666.4" y2="386" stroke="#3a3a3a" stroke-width="1" />
<line x1="555.34" y1="383.4" x2="555.34" y2="385" stroke="#3a3a3a" stroke-width="1" />
<line x1="580.02" y1="383.4" x2="580.02" y2="385" stroke="#3a3a3a" stroke-width="1" />
<line x1="604.7" y1="383.4" x2="604.7" y2="385" stroke="#3a3a3a" stroke-width="1" />
<line x1="629.38" y1="383.4" x2="629.38" y2="385" stroke="#3a3a3a" stroke-width="1" />
<line x1="654.06" y1="383.4" x2="654.06" y2="385" stroke="#3a3a3a" stroke-width="1" />
<text x="543" y="395.6" font-size="10" text-anchor="middle" fill="#1a1a1a" font-weight="normal"  stroke="#1a1a1a" stroke-width="0.2">-10</text>
<text x="567.68" y="395.6" font-size="10" text-anchor="middle" fill="#1a1a1a" font-weight="normal"  stroke="#1a1a1a" stroke-width="0.2">-8</text>
<text x="592.36" y="395.6" font-size="10" text-anchor="middle" fill="#1a1a1a" font-weight="normal"  stroke="#1a1a1a" stroke-width="0.2">-6</text>
<text x="617.04" y="395.6" font-size="10" text-anchor="middle" fill="#1a1a1a" font-weight="normal"  stroke="#1a1a1a" stroke-width="0.2">-4</text>
<text x="641.72" y="395.6" font-size="10" text-anchor="middle" fill="#1a1a1a" font-weight="normal"  stroke="#1a1a1a" stroke-width="0.2">-2</text>
<text x="666.4" y="395.6" font-size="10" text-anchor="middle" fill="#1a1a1a" font-weight="normal"  stroke="#1a1a1a" stroke-width="0.2">0</text>
<text x="524.8" y="410.7" font-size="9.9" text-anchor="start" fill="#1a1a1a" stroke="#1a1a1a" stroke-width="0.2">CO Partial current density (mA cm<tspan font-size="6.4" dy="-4.1">-2</tspan><tspan dy="4.1">)</tspan></text>
<text transform="translate(517.6,300.7) rotate(-90)" font-size="10" text-anchor="middle" fill="#1a1a1a" stroke="#1a1a1a" stroke-width="0.2">CO<tspan font-size="6.5" dy="2.6">2</tspan><tspan dy="-2.6"> flux (mmol m</tspan><tspan font-size="6.5" dy="-4.1">-2</tspan><tspan dy="4.1"> s</tspan><tspan font-size="6.5" dy="-4.1">-1</tspan><tspan dy="4.1">)</tspan></text>
<rect x="548.4" y="231.4" width="21.3" height="10.3" fill="#c4e2ef"/>
<rect x="548.4" y="244.2" width="21.3" height="9.6" fill="#e5aab5"/>
<text x="573.3" y="240.6" font-size="10" text-anchor="start" fill="#1a1a1a" font-weight="normal"  stroke="#1a1a1a" stroke-width="0.2">Diffusion</text>
<text x="573.3" y="252.9" font-size="10" text-anchor="start" fill="#1a1a1a" font-weight="normal"  stroke="#1a1a1a" stroke-width="0.2">Micro-convection</text>
</svg></body></html>
